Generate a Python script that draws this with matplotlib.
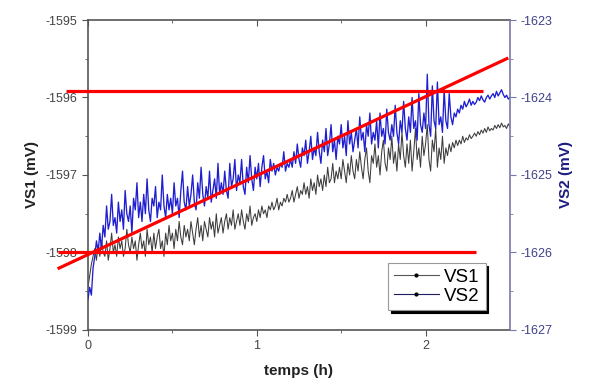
import numpy as np
import matplotlib
matplotlib.use("Agg")
import matplotlib.pyplot as plt
from matplotlib.lines import Line2D

plt.rcParams['font.family'] = ['Liberation Sans', 'DejaVu Sans']
plt.rcParams['axes.unicode_minus'] = False

# VS1 (left axis, mV), one reading every 0.01 h
vs1 = [
    -1598.45, -1598.30, -1598.15, -1598.05, -1597.95, -1598.10, -1597.90, -1598.05, -1597.85, -1598.00,
    -1598.05, -1597.85, -1598.10, -1597.95, -1597.75, -1598.00, -1597.90, -1598.05, -1597.80, -1597.95,
    -1597.85, -1598.05, -1597.95, -1597.70, -1597.90, -1598.00, -1597.80, -1597.95, -1597.85, -1598.10,
    -1597.90, -1597.75, -1597.95, -1597.85, -1598.05, -1597.70, -1597.90, -1597.80, -1598.00, -1597.75,
    -1597.95, -1597.80, -1597.70, -1597.95, -1597.85, -1598.05, -1597.75, -1597.90, -1597.65, -1597.85,
    -1597.75, -1597.95, -1597.70, -1597.85, -1597.60, -1597.80, -1597.90, -1597.65, -1597.80, -1597.70,
    -1597.85, -1597.60, -1597.75, -1597.90, -1597.70, -1597.55, -1597.80, -1597.65, -1597.85, -1597.60,
    -1597.70, -1597.80, -1597.55, -1597.70, -1597.60, -1597.80, -1597.50, -1597.75, -1597.65, -1597.55,
    -1597.75, -1597.60, -1597.50, -1597.70, -1597.55, -1597.65, -1597.45, -1597.70, -1597.60, -1597.50,
    -1597.65, -1597.45, -1597.60, -1597.70, -1597.50, -1597.60, -1597.40, -1597.65, -1597.55, -1597.50,
    -1597.60, -1597.45, -1597.55, -1597.40, -1597.50, -1597.45, -1597.55, -1597.40, -1597.45, -1597.35,
    -1597.45, -1597.40, -1597.30, -1597.45, -1597.35, -1597.40, -1597.30, -1597.35, -1597.25, -1597.35,
    -1597.30, -1597.20, -1597.35, -1597.25, -1597.15, -1597.30, -1597.20, -1597.25, -1597.10, -1597.25,
    -1597.15, -1597.30, -1597.05, -1597.20, -1597.10, -1597.25, -1597.00, -1597.15, -1597.05, -1597.20,
    -1597.00, -1597.15, -1596.90, -1597.10, -1597.05, -1596.85, -1597.10, -1596.95, -1597.05, -1596.90,
    -1597.05, -1596.80, -1596.95, -1597.10, -1596.85, -1597.00, -1596.75, -1596.95, -1597.05, -1596.80,
    -1596.95, -1596.70, -1596.90, -1597.05, -1596.80, -1596.65, -1596.95, -1597.10, -1596.75, -1596.85,
    -1596.60, -1596.90, -1596.75, -1597.00, -1596.70, -1596.55, -1596.85, -1596.95, -1596.65, -1596.80,
    -1596.50, -1596.85, -1596.70, -1596.95, -1596.60, -1596.80, -1596.45, -1596.75, -1596.90, -1596.60,
    -1596.85, -1596.55, -1596.95, -1596.70, -1596.40, -1596.80, -1596.65, -1596.90, -1596.50, -1596.75,
    -1596.60, -1596.35, -1596.80, -1596.95, -1596.55, -1596.70, -1596.40, -1596.90, -1596.65, -1596.80,
    -1596.50, -1596.85, -1596.65, -1596.75, -1596.60, -1596.70, -1596.58, -1596.65, -1596.55, -1596.62,
    -1596.55, -1596.60, -1596.50, -1596.58, -1596.52, -1596.55, -1596.48, -1596.53, -1596.50, -1596.46,
    -1596.50, -1596.44, -1596.48, -1596.42, -1596.46, -1596.40, -1596.45, -1596.38, -1596.43, -1596.40,
    -1596.42, -1596.36, -1596.40, -1596.35, -1596.39, -1596.33, -1596.38, -1596.36, -1596.40, -1596.34,
    -1596.38,
]

# VS2 (right axis, mV), same time base
vs2 = [
    -1626.60, -1626.45, -1626.55, -1626.20, -1626.05, -1625.85, -1626.00, -1625.75, -1625.95, -1625.65,
    -1625.80, -1625.40, -1625.70, -1625.60, -1625.25, -1625.65, -1625.55, -1625.75, -1625.35, -1625.60,
    -1625.45, -1625.70, -1625.20, -1625.50, -1625.60, -1625.40, -1625.75, -1625.30, -1625.45, -1625.10,
    -1625.55, -1625.35, -1625.60, -1625.25, -1625.50, -1625.05, -1625.45, -1625.60, -1625.30, -1625.40,
    -1625.15, -1625.55, -1625.35, -1625.45, -1625.00, -1625.40, -1625.55, -1625.25, -1625.45, -1625.30,
    -1625.50, -1625.10, -1625.40, -1625.30, -1625.55, -1625.20, -1624.95, -1625.35, -1625.45, -1625.15,
    -1625.40, -1625.25, -1625.00, -1625.35, -1625.45, -1625.10, -1625.30, -1624.90, -1625.25, -1625.40,
    -1625.15, -1625.30, -1624.95, -1625.35, -1625.20, -1625.05, -1625.30, -1624.85, -1625.25, -1625.10,
    -1625.25, -1624.95, -1625.20, -1625.30, -1624.85, -1625.15, -1625.05, -1624.80, -1625.20, -1625.00,
    -1625.10, -1624.80, -1625.15, -1625.25, -1624.90, -1625.10, -1624.75, -1625.05, -1625.20, -1624.90,
    -1625.05, -1624.85, -1625.15, -1624.90, -1624.75, -1625.05, -1624.95, -1625.10, -1624.80, -1624.95,
    -1624.85, -1625.00, -1624.90, -1624.95, -1624.85, -1624.90, -1624.70, -1624.95, -1624.85, -1624.90,
    -1624.80, -1624.90, -1624.70, -1624.85, -1624.60, -1624.80, -1624.90, -1624.65, -1624.75, -1624.55,
    -1624.85, -1624.70, -1624.50, -1624.80, -1624.65, -1624.75, -1624.45, -1624.70, -1624.85, -1624.55,
    -1624.70, -1624.40, -1624.75, -1624.60, -1624.35, -1624.70, -1624.55, -1624.80, -1624.50, -1624.60,
    -1624.35, -1624.65, -1624.50, -1624.75, -1624.30, -1624.60, -1624.45, -1624.70, -1624.55, -1624.40,
    -1624.65, -1624.25, -1624.55, -1624.45, -1624.70, -1624.35, -1624.50, -1624.20, -1624.60, -1624.45,
    -1624.55, -1624.30, -1624.65, -1624.20, -1624.50, -1624.40, -1624.60, -1624.15, -1624.45, -1624.55,
    -1624.35, -1624.50, -1624.10, -1624.45, -1624.60, -1624.30, -1624.45, -1624.05, -1624.40, -1624.55,
    -1624.25, -1624.45, -1624.00, -1624.40, -1624.30, -1624.55, -1623.95, -1624.35, -1624.45, -1624.20,
    -1624.40, -1623.70, -1624.35, -1624.50, -1623.85, -1624.30, -1624.40, -1623.80, -1624.35, -1624.25,
    -1624.45, -1623.90, -1624.30, -1624.40, -1623.95, -1624.25, -1624.35, -1624.20, -1624.25, -1624.15,
    -1624.20, -1624.10, -1624.15, -1624.05, -1624.12, -1624.08, -1624.02, -1624.10, -1624.05, -1624.09,
    -1624.06, -1624.00, -1624.04, -1623.98, -1624.03, -1624.06, -1624.00, -1623.97, -1624.02, -1623.98,
    -1623.95, -1624.00, -1623.92, -1623.98, -1623.94, -1623.90, -1623.96, -1624.00, -1623.97, -1624.02,
    -1624.00,
]

temps = np.linspace(0, 2.5, len(vs1))

# red guide lines, in VS1 units
red_high_x = [-0.13, 2.34]
red_high_y = [-1595.92, -1595.92]
red_low_x = [-0.18, 2.30]
red_low_y = [-1598.0, -1598.0]
red_diag_x = [-0.18, 2.49]
red_diag_y = [-1598.21, -1595.49]

fig = plt.figure(figsize=(5.93, 3.81), dpi=100)
ax = fig.add_axes([0.1484, 0.1339, 0.7116, 0.8136])
ax2 = ax.twinx()

ax.plot(temps, vs1, color='#3c3c3c', lw=0.75)
ax2.plot(temps, vs2, color='#1f1fd0', lw=0.95)

ax.set_xlim(0, 2.5)
ax.set_ylim(-1599, -1595)
ax2.set_ylim(-1627, -1623)

ax.set_xticks([0, 1, 2])
ax.set_xticks([0.5, 1.5], minor=True)
ax.set_yticks([-1599, -1598, -1597, -1596, -1595])
ax.set_yticks(np.arange(-1598.5, -1595, 1.0), minor=True)
ax2.set_yticks([-1627, -1626, -1625, -1624, -1623])
ax2.set_yticks(np.arange(-1626.5, -1623, 1.0), minor=True)

grey = '#555555'
slate = '#7878a8'
for s in ['left', 'bottom', 'top']:
    ax.spines[s].set_color(grey)
    ax.spines[s].set_linewidth(1.2)
ax.spines['right'].set_visible(False)
for s in ['left', 'bottom', 'top']:
    ax2.spines[s].set_visible(False)
ax2.spines['right'].set_color(slate)
ax2.spines['right'].set_linewidth(1.2)

ax.tick_params(axis='both', which='both', direction='out', colors=grey, labelsize=9,
               labelcolor='#444444')
ax.tick_params(which='major', length=4)
ax.tick_params(which='minor', length=2.5)
ax2.tick_params(axis='y', which='both', direction='out', colors=slate, labelsize=9,
                labelcolor='#40408a')
ax2.tick_params(which='major', length=4)
ax2.tick_params(which='minor', length=2.5)

# top axis ticks pointing inwards, no labels
top = ax.secondary_xaxis('top')
top.set_xticks([0, 1, 2])
top.set_xticks([0.5, 1.5], minor=True)
top.tick_params(which='both', direction='in', colors=grey, labeltop=False)
top.tick_params(which='major', length=4)
top.tick_params(which='minor', length=2.5)
top.spines['top'].set_visible(False)

ax.set_xlabel('temps (h)', fontsize=11, fontweight='bold', color='#222222', labelpad=8)
ax.set_ylabel('VS1 (mV)', fontsize=11, fontweight='bold', color='#222222', labelpad=5)
ax2.set_ylabel('VS2 (mV)', fontsize=11, fontweight='bold', color='#1c1c80', labelpad=5)

for xs, ys in [(red_high_x, red_high_y), (red_low_x, red_low_y), (red_diag_x, red_diag_y)]:
    ax2.plot(xs, ys, color='#ff0000', lw=2.3, transform=ax.transData, clip_on=False,
             solid_capstyle='butt')

handles = [
    Line2D([], [], color='#555555', lw=0.8, marker='.', markersize=4, markerfacecolor='black',
           markeredgecolor='black'),
    Line2D([], [], color='#1c1c60', lw=0.8, marker='.', markersize=4, markerfacecolor='black',
           markeredgecolor='black'),
]
leg = ax2.legend(handles, ['VS1', 'VS2'], loc='upper left',
                 bbox_to_anchor=(388 / 593, 1 - 263 / 381), bbox_transform=fig.transFigure,
                 fontsize=13.5, frameon=True, fancybox=False, borderpad=0.3, labelspacing=0.1,
                 handlelength=2.4, handletextpad=0.3, borderaxespad=0,
                 shadow={'color': 'black', 'alpha': 1.0})
leg.get_frame().set_edgecolor('#999999')
leg.get_frame().set_linewidth(0.8)

fig.savefig('out.png', dpi=100)
